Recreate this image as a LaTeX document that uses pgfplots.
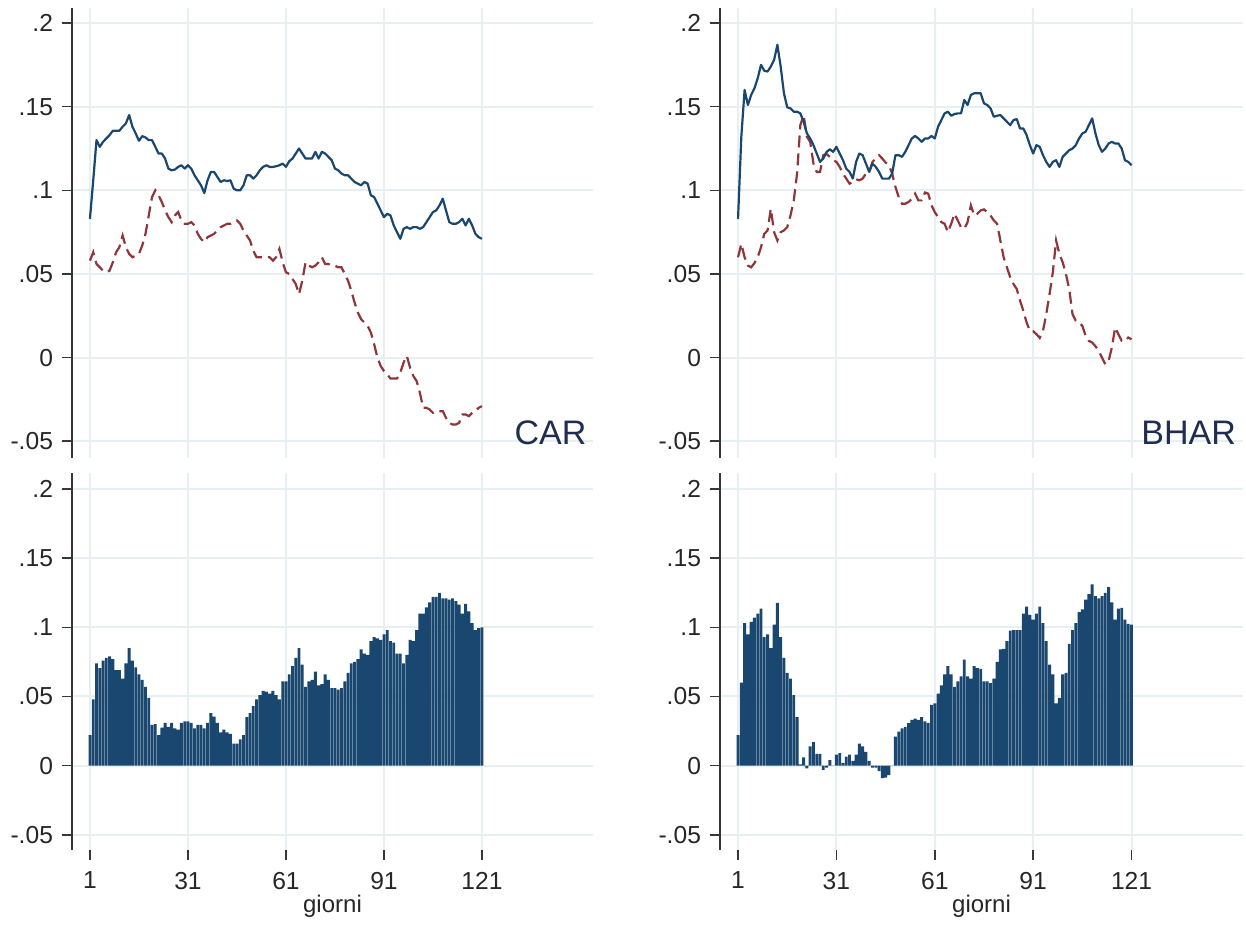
\documentclass[border=0pt]{standalone}
\usepackage{fontspec}
\setmainfont{Liberation Sans}
\usepackage{pgfplots}
\usepackage{pgfplotstable}
\pgfplotsset{compat=1.18}
\definecolor{snavy}{RGB}{26,71,111}
\definecolor{smaroon}{RGB}{144,53,59}
\definecolor{gridc}{RGB}{230,239,242}
\definecolor{axc}{RGB}{55,55,55}
\definecolor{txtc}{RGB}{30,45,80}

\pgfplotstableread{
d cs cd cb bs bd bb
1 .083 .058 .022 .083 .060 .022
2 .106 .063 .048 .132 .068 .060
3 .130 .056 .074 .160 .060 .103
4 .126 .054 .0705 .151 .055 .095
5 .129 .052 .076 .157 .054 .104
6 .131 .051 .078 .161 .0565 .107
7 .133 .052 .079 .167 .060 .110
8 .1356 .057 .077 .175 .066 .1135
9 .1356 .063 .069 .1715 .074 .093
10 .1356 .066 .069 .171 .076 .095
11 .138 .073 .063 .174 .089 .085
12 .140 .066 .074 .178 .075 .102
13 .145 .062 .085 .187 .070 .1176
14 .138 .060 .076 .174 .075 .093
15 .134 .061 .071 .158 .076 .078
16 .1296 .062 .066 .1496 .078 .067
17 .1324 .067 .062 .149 .085 .063
18 .1316 .074 .057 .147 .094 .051
19 .130 .085 .049 .147 .110 .035
20 .130 .096 .0295 .146 .139 .001
21 .126 .100 .030 .141 .145 .006
22 .122 .097 .022 .134 .132 -.002
23 .122 .093 .0275 .131 .129 .014
24 .119 .088 .031 .127 .116 .017
25 .113 .084 .028 .122 .111 .0085
26 .112 .081 .031 .117 .111 .0085
27 .1124 .085 .027 .119 .121 -.003
28 .114 .087 .026 .123 .1217 -.0015
29 .115 .082 .031 .1245 .120 .004
30 .113 .080 .032 .123 .118 .000
31 .115 .080 .032 .126 .117 .008
32 .113 .081 .031 .122 .114 .009
33 .109 .079 .027 .118 .110 .002
34 .106 .074 .0295 .113 .107 .0065
35 .103 .071 .0295 .111 .104 .008
36 .0984 .069 .027 .107 .105 .0035
37 .106 .072 .031 .117 .1066 .008
38 .111 .073 .038 .122 .106 .016
39 .111 .074 .0355 .121 .107 .014
40 .108 .076 .031 .116 .110 .010
41 .105 .078 .024 .111 .111 .0035
42 .106 .079 .026 .116 .117 -.0015
43 .1056 .080 .024 .114 .119 -.0015
44 .106 .080 .023 .111 .121 -.004
45 .101 .081 .016 .107 .119 -.009
46 .100 .082 .016 .107 .1166 -.0087
47 .100 .080 .019 .107 .115 -.0068
48 .103 .076 .022 .110 .110 .000
49 .109 .073 .035 .121 .102 .021
50 .109 .070 .038 .121 .096 .0246
51 .107 .064 .043 .120 .092 .027
52 .109 .060 .048 .123 .092 .028
53 .112 .060 .051 .127 .093 .0307
54 .114 .060 .054 .131 .095 .033
55 .115 .060 .0536 .1325 .098 .034
56 .114 .060 .052 .131 .094 .033
57 .114 .058 .054 .129 .094 .035
58 .1144 .060 .051 .131 .0987 .032
59 .115 .065 .048 .131 .098 .031
60 .116 .057 .061 .1325 .091 .044
61 .114 .051 .061 .131 .087 .045
62 .1174 .050 .066 .138 .084 .052
63 .119 .047 .072 .142 .081 .058
64 .122 .044 .078 .146 .080 .066
65 .125 .038 .085 .147 .075 .072
66 .122 .046 .073 .1446 .080 .066
67 .119 .057 .057 .1456 .086 .057
68 .119 .055 .061 .146 .082 .061
69 .119 .054 .062 .146 .078 .0645
70 .123 .055 .068 .154 .077 .0766
71 .119 .057 .058 .151 .081 .0645
72 .123 .060 .059 .157 .091 .063
73 .122 .056 .066 .158 .085 .072
74 .120 .056 .062 .158 .086 .0705
75 .118 .055 .056 .158 .088 .070
76 .113 .055 .056 .152 .0886 .061
77 .112 .054 .055 .151 .087 .061
78 .110 .054 .056 .149 .085 .0597
79 .109 .050 .061 .144 .082 .063
80 .109 .046 .067 .1446 .080 .075
81 .107 .040 .074 .145 .070 .084
82 .105 .033 .075 .143 .060 .0845
83 .104 .027 .077 .141 .054 .090
84 .103 .023 .084 .139 .048 .0976
85 .105 .021 .081 .142 .044 .098
86 .104 .019 .080 .1426 .041 .098
87 .097 .015 .090 .137 .034 .098
88 .096 .008 .093 .137 .028 .110
89 .092 .000 .092 .133 .021 .115
90 .088 -.005 .091 .127 .016 .109
91 .084 -.008 .095 .122 .0158 .1055
92 .086 -.010 .098 .127 .014 .110
93 .085 -.0125 .090 .126 .0118 .115
94 .079 -.0125 .089 .121 .016 .103
95 .075 -.0125 .081 .117 .026 .090
96 .071 -.009 .081 .114 .038 .073
97 .077 -.003 .074 .117 .051 .066
98 .078 .001 .080 .118 .070 .045
99 .077 -.006 .091 .114 .062 .049
100 .078 -.011 .090 .120 .057 .066
101 .078 -.014 .098 .122 .050 .067
102 .077 -.021 .110 .124 .041 .088
103 .078 -.030 .110 .125 .026 .098
104 .081 -.030 .1145 .127 .022 .103
105 .084 -.031 .118 .131 .021 .111
106 .087 -.033 .122 .134 .019 .113
107 .088 -.032 .122 .135 .013 .120
108 .091 -.032 .125 .139 .010 .124
109 .095 -.032 .121 .143 .009 .131
110 .088 -.036 .121 .134 .0068 .1225
111 .081 -.039 .120 .127 .004 .121
112 .080 -.040 .121 .123 .000 .1225
113 .080 -.040 .119 .125 -.004 .125
114 .081 -.039 .1165 .128 -.002 .129
115 .083 -.034 .110 .129 .006 .118
116 .079 -.034 .117 .128 .018 .1055
117 .083 -.035 .1115 .128 .014 .1135
118 .079 -.033 .103 .125 .010 .114
119 .074 -.032 .098 .118 .010 .1055
120 .072 -.030 .0995 .117 .012 .1025
121 .071 -.029 .100 .115 .011 .102
}\data

\pgfplotsset{
  panel/.style={
    scale only axis,
    clip mode=individual,
    xmin=-4.5, xmax=155,
    xtick={1,31,61,91,121},
    ytick={-0.05,0,0.05,0.1,0.15,0.2},
    yticklabels={-.05,0,.05,.1,.15,.2},
    grid=major,
    grid style={gridc, line width=1pt},
    axis line style={draw=none},
    tick align=outside,
    ytick pos=left, xtick pos=bottom,
    major tick length=5pt,
    tick style={axc, line width=0.8pt},
    tick label style={font=\fontsize{12.3}{14}\selectfont, text=black!85},
    yticklabel style={xshift=-1pt},
    xticklabel style={yshift=-2.5pt},
  },
  toppanel/.style={panel, width=#1, height=225pt, ymin=-0.06, ymax=0.209,
    xticklabels={}, xtick style={draw=none}},
  botpanel/.style={panel, width=#1, height=188.5pt, ymin=-0.061, ymax=0.2116,
    xticklabels={1,31,61,91,121}},
  solidln/.style={snavy, line width=1.1pt, line join=round},
  dashln/.style={smaroon, line width=1.1pt, dash pattern=on 6pt off 3pt},
  bars/.style={ybar, bar width=0.88, bar shift=0pt, fill=snavy, draw=none},
}

\begin{document}
\begin{tikzpicture}
\useasboundingbox (0,0) rectangle (623pt,462.5pt);

% top left: CAR
\begin{axis}[toppanel=260.5pt, at={(36pt,233.5pt)}, anchor=south west]
  \addplot[dashln] table[x=d,y=cd]{\data};
  \addplot[solidln] table[x=d,y=cs]{\data};
  \draw[axc, line width=0.8pt] (rel axis cs:0,0) -- (rel axis cs:0,1);
  \node[anchor=base east, text=txtc, font=\fontsize{17}{20}\selectfont, inner sep=0pt] at (rel axis cs:0.988,0.029) {CAR};
\end{axis}

% bottom left
\begin{axis}[botpanel=260.5pt, at={(36pt,37.5pt)}, anchor=south west]
  \addplot[bars] table[x=d,y=cb]{\data};
  \draw[axc, line width=0.8pt] (rel axis cs:0,0) -- (rel axis cs:0,1);
  \node[anchor=base, font=\fontsize{12}{14}\selectfont, text=black!85, inner sep=0pt, yshift=-31pt] at (rel axis cs:0.5,0) {giorni};
\end{axis}

% top right: BHAR
\begin{axis}[toppanel=261.5pt, at={(360pt,233.5pt)}, anchor=south west]
  \addplot[dashln] table[x=d,y=bd]{\data};
  \addplot[solidln] table[x=d,y=bs]{\data};
  \draw[axc, line width=0.8pt] (rel axis cs:0,0) -- (rel axis cs:0,1);
  \node[anchor=base east, text=txtc, font=\fontsize{17}{20}\selectfont, inner sep=0pt] at (rel axis cs:0.987,0.029) {BHAR};
\end{axis}

% bottom right
\begin{axis}[botpanel=261.5pt, at={(360pt,37.5pt)}, anchor=south west]
  \addplot[bars] table[x=d,y=bb]{\data};
  \draw[axc, line width=0.8pt] (rel axis cs:0,0) -- (rel axis cs:0,1);
  \node[anchor=base, font=\fontsize{12}{14}\selectfont, text=black!85, inner sep=0pt, yshift=-31pt] at (rel axis cs:0.5,0) {giorni};
\end{axis}
\end{tikzpicture}
\end{document}
